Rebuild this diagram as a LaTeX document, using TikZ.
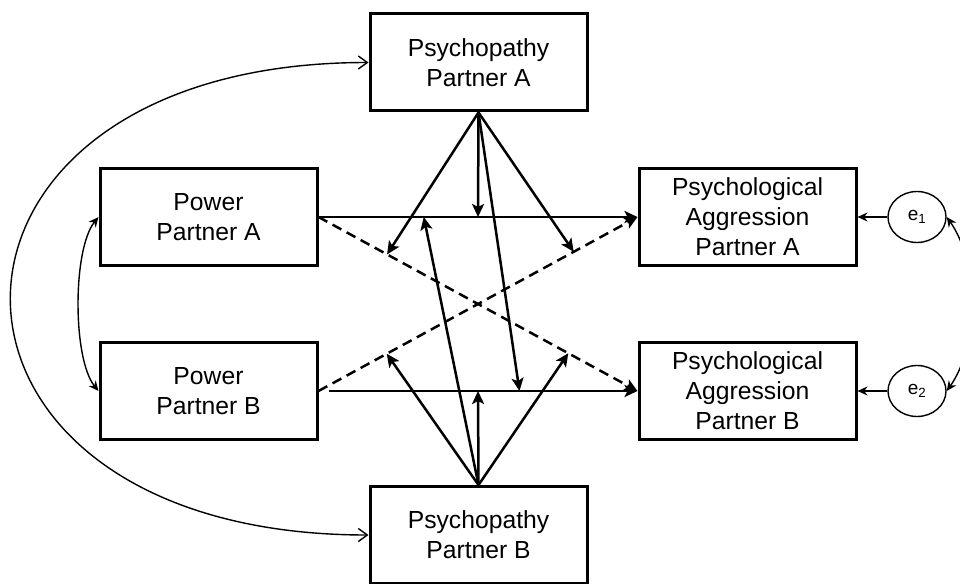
\documentclass[tikz,border=0pt]{standalone}
\usepackage{fontspec}
\setmainfont{Liberation Sans}
\usetikzlibrary{
    arrows.meta,
    shapes.geometric
}
\tikzset{
    >={Stealth[length=13pt,width=12pt,inset=3pt]},
    box/.style={
        draw,
        line width=3pt,
        minimum width=217pt,
        minimum height=97pt,
        inner sep=0pt,
        align=center,
        font=\fontsize{24.7}{30}\selectfont
    },
    errterm/.style={
        draw,
        ellipse,
        line width=1.4pt,
        minimum width=58pt,
        minimum height=51pt,
        inner sep=0pt,
        font=\fontsize{19}{21}\selectfont
    },
    effect/.style={->, line width=2.5pt},
    crosseff/.style={->, line width=2.5pt, dash pattern=on 10pt off 6pt},
    covar/.style={
        {Straight Barb[length=9pt,width=13pt]}-{Straight Barb[length=9pt,width=13pt]},
        line width=1.4pt
    },
    covarfill/.style={
        {Stealth[length=10pt,width=9pt]}-{Stealth[length=10pt,width=9pt]},
        line width=1.4pt
    },
    residual/.style={
        -{Stealth[length=10pt,width=9pt]},
        line width=1.4pt
    }
}

\begin{document}
\begin{tikzpicture}[
    x=1pt,
    y=-1pt
]
    \useasboundingbox (0,0) rectangle (960,583);

    % Variables
    \node[box]     (psyA) at (478.5,62.5) {Psychopathy\\Partner A};
    \node[box]     (powA) at (208.5,217)  {Power\\Partner A};
    \node[box]     (aggA) at (747.5,217)  {Psychological\\Aggression\\Partner A};
    \node[box]     (powB) at (208.5,391)  {Power\\Partner B};
    \node[box]     (aggB) at (747.5,391)  {Psychological\\Aggression\\Partner B};
    \node[box]     (psyB) at (478.5,535)  {Psychopathy\\Partner B};
    \node[errterm] (e1)   at (917,217)    {e\textsubscript{1}};
    \node[errterm] (e2)   at (917,391)    {e\textsubscript{2}};

    % Efectos actor y pareja
    \draw[effect] (powA.east)
        -- coordinate[pos=0.33] (bAA) coordinate[pos=0.5] (aAA) (aggA.west);
    \draw[effect, shorten <=10pt] (powB.east)
        -- coordinate[pos=0.5] (bBB) coordinate[pos=0.63] (aBB) (aggB.west);
    \draw[crosseff] (powA.east)
        -- coordinate[pos=0.215] (aAB) coordinate[pos=0.783] (bAB) (aggB.west);
    \draw[crosseff] (powB.east)
        -- coordinate[pos=0.214] (bBA) coordinate[pos=0.8] (aBA) (aggA.west);

    % Moderacion
    \path[effect]
        (psyA.south)
            edge (aAB)
            edge (aAA)
            edge (aBB)
            edge (aBA)
        (psyB.north)
            edge (bBA)
            edge (bAA)
            edge (bBB)
            edge (bAB);

    % Residuos
    \draw[residual] (e1) -- (aggA);
    \draw[residual] (e2) -- (aggB);

    % Covarianzas
    \draw[covar] (psyA.west)
        .. controls +(-477,0) and +(-477,0) .. (psyB.west);
    \draw[covarfill] (powA.west)
        .. controls +(-26,32) and +(-26,-32) .. (powB.west);
    \draw[covarfill] (e1.east)
        .. controls +(32,45) and +(32,-45) .. (e2.east);

\end{tikzpicture}
\end{document}
